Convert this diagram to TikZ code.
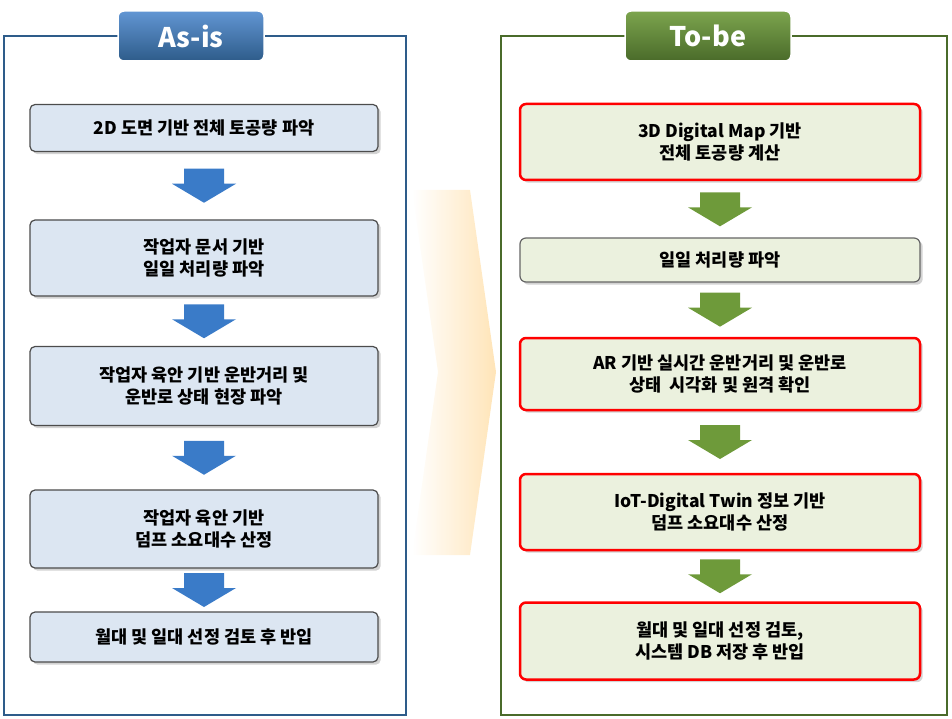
\documentclass[tikz,border=0pt]{standalone}
\usepackage{fontspec}
\setmainfont{Noto Sans CJK KR}
\usetikzlibrary{shadows,calc}
\definecolor{bluebd}{HTML}{2E5C8A}
\definecolor{greenbd}{HTML}{4A6B2A}
\definecolor{bluefill}{HTML}{DCE6F2}
\definecolor{greenfill}{HTML}{EBF1DE}
\definecolor{bluearr}{HTML}{3A7BC8}
\definecolor{greenarr}{HTML}{6E9A3A}
\tikzset{
 panel/.style={draw, line width=2.5pt},
 tab/.style={rounded corners=6pt, draw=white, line width=1.5pt, text=white, font=\fontsize{27}{30}\selectfont\bfseries, minimum height=50pt, inner sep=0pt},
 boxa/.style={draw=black!70, line width=1.2pt, rounded corners=5pt, fill=bluefill, align=center, font=\fontsize{17.5}{22}\selectfont\bfseries, minimum width=348pt, drop shadow={opacity=0.35}},
 boxb/.style={draw=black!60, line width=1.2pt, rounded corners=6pt, fill=greenfill, align=center, font=\fontsize{17.5}{22}\selectfont\bfseries, minimum width=400pt, drop shadow={opacity=0.35}},
 redb/.style={draw=red, line width=2.5pt},
 blockarr/.pic={\fill[pic actions] (-20,-17) -- (20,-17) -- (20,-2) -- (32,-2) -- (0,17) -- (-32,-2) -- (-20,-2) -- cycle;}
}
\begin{document}
\begin{tikzpicture}[x=1pt,y=-1pt]
\useasboundingbox (0,0) rectangle (952,719);
% middle arrow
\shade[left color=white, right color=yellow!25!orange!35, opacity=0.8] (412,190) -- (470,190) -- (496,372) -- (470,555) -- (412,555) -- (438,372) -- cycle;
% panels
\draw[panel, draw=bluebd] (4,36) rectangle (406,715);
\draw[panel, draw=greenbd] (501,36) rectangle (947,715);
\node[tab, top color=bluearr!80!white, bottom color=bluebd, minimum width=146pt] (t1) at (191,36) {As-is};
\node[tab, top color=greenarr!90!white, bottom color=greenbd, minimum width=166pt] (t2) at (708,36) {To-be};
% left
\node[boxa, minimum height=47pt] (a1) at (204,128) {2D 도면 기반 전체 토공량 파악};
\node[boxa, minimum height=76pt] (a2) at (204,258) {작업자 문서 기반\\일일 처리량 파악};
\node[boxa, minimum height=79pt] (a3) at (204,386) {작업자 육안 기반 운반거리 및\\운반로 상태 현장 파악};
\node[boxa, minimum height=78pt] (a4) at (204,529) {작업자 육안 기반\\덤프 소요대수 산정};
\node[boxa, minimum height=50pt] (a5) at (204,637) {월대 및 일대 선정 검토 후 반입};
\foreach \p/\q in {a1/a2,a2/a3,a3/a4,a4/a5}
 \path ($(\p.south)!0.5!(\q.north)$) pic[fill=bluearr] {blockarr};
% right
\node[boxb, redb, minimum height=76pt] (b1) at (720,142) {3D Digital Map 기반\\전체 토공량 계산};
\node[boxb, minimum height=44pt] (b2) at (720,260) {일일 처리량 파악};
\node[boxb, redb, minimum height=72pt] (b3) at (720,374) {AR 기반 실시간 운반거리 및 운반로\\상태\ \ 시각화 및 원격 확인};
\node[boxb, redb, minimum height=76pt] (b4) at (720,512) {IoT-Digital Twin 정보 기반\\덤프 소요대수 산정};
\node[boxb, redb, minimum height=77pt] (b5) at (720,641) {월대 및 일대 선정 검토,\\시스템 DB 저장 후 반입};
\foreach \p/\q in {b1/b2,b2/b3,b3/b4,b4/b5}
 \path ($(\p.south)!0.5!(\q.north)$) pic[fill=greenarr] {blockarr};
\end{tikzpicture}
\end{document}
